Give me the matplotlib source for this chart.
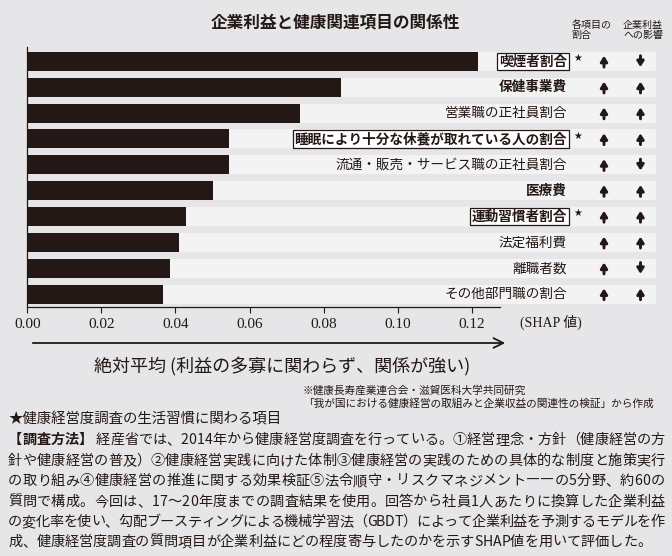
import matplotlib
matplotlib.use('Agg')
import matplotlib.pyplot as plt
import matplotlib.transforms as mtransforms

plt.rcParams['font.family'] = ['Noto Sans CJK JP', 'DejaVu Sans']

# data
items = ['喫煙者割合', '保健事業費', '営業職の正社員割合',
         '睡眠により十分な休養が取れている人の割合',
         '流通・販売・サービス職の正社員割合', '医療費', '運動習慣者割合',
         '法定福利費', '離職者数', 'その他部門職の割合']
shap_vals = [0.1216, 0.0848, 0.0737, 0.0544, 0.0544, 0.0501, 0.0428,
             0.0409, 0.0385, 0.0366]
bold_items = [True, True, False, True, False, True, True, False, False, False]
boxed_items = [True, False, False, True, False, False, True, False, False, False]
ratio_dir = ['up'] * 10
profit_dir = ['down', 'up', 'up', 'up', 'down', 'up', 'up', 'up', 'down', 'up']
xticks = [0.00, 0.02, 0.04, 0.06, 0.08, 0.10, 0.12]

W, H = 672, 556
ink = '#231815'
bg = '#e6e6e8'
band = '#f3f3f3'

fig = plt.figure(figsize=(W / 100, H / 100), dpi=100, facecolor=bg)


def px(x, y):
    return x / W, 1 - y / H


ax = fig.add_axes([27.3 / W, 1 - 307 / H, (500 - 27.3) / W, (307 - 46.7) / H])
ax.set_facecolor('none')
pos = list(range(len(items)))
band_end = (655 - 27.3) / 3700
ax.barh(pos, [band_end] * len(pos), height=0.735, color=band, clip_on=False, zorder=1)
ax.barh(pos, shap_vals, height=0.735, color=ink, zorder=2)
ax.set_xlim(0, 0.1276)
ax.set_ylim(9.5, -0.57)
ax.set_yticks([])
ax.set_xticks(xticks)
ax.set_xticklabels(['%.2f' % t for t in xticks], family='Liberation Serif',
                   fontsize=11, color=ink)
ax.tick_params(axis='x', length=4, width=0.8, color=ink, pad=4)
for s in ['top', 'right']:
    ax.spines[s].set_visible(False)
for s in ['left', 'bottom']:
    ax.spines[s].set_color(ink)
    ax.spines[s].set_linewidth(0.9)

# row labels and arrows
tr = mtransforms.blended_transform_factory(fig.transFigure, ax.transData)
for i, name in enumerate(items):
    kw = dict(ha='right', va='center', fontsize=9.8, color=ink, transform=tr,
              weight='bold' if bold_items[i] else 'normal', zorder=5)
    if boxed_items[i]:
        kw['bbox'] = dict(boxstyle='square,pad=0.12', fc='white', ec=ink, lw=0.9)
    ax.text(567 / W, i, name, **kw)
    if boxed_items[i]:
        ax.text(573.5 / W, i - 0.12, '★', ha='left', va='center', fontsize=7,
                color=ink, transform=tr, family='DejaVu Sans')
    for xp, d in [(604, ratio_dir[i]), (640.5, profit_dir[i])]:
        tip, tail = (i - 0.22, i + 0.22) if d == 'up' else (i + 0.22, i - 0.22)
        ax.annotate('', xy=(xp / W, tip), xytext=(xp / W, tail), xycoords=tr,
                    arrowprops=dict(arrowstyle='-|>,head_length=0.32,head_width=0.2',
                                    lw=2.1, color=ink, shrinkA=0, shrinkB=0))

# headers
fig.text(*px(335, 22), '企業利益と健康関連項目の関係性', ha='center', va='center',
         fontsize=12, weight='bold', color=ink)
fig.text(*px(571.5, 30), '各項目の\n割合', ha='left', va='center', fontsize=7.2,
         color=ink, linespacing=1.0)
fig.text(*px(643, 30), '企業利益\nへの影響', ha='center', va='center', fontsize=7.2,
         color=ink, linespacing=1.0)
fig.text(*px(520, 322), '(SHAP 値)', ha='left', va='center', fontsize=10,
         color=ink, family=['Liberation Serif', 'Noto Sans CJK JP'])

# arrow and caption
fig.add_artist(plt.Annotation('', xy=px(508, 343), xytext=px(30, 343),
                              xycoords='figure fraction',
                              arrowprops=dict(arrowstyle='->,head_length=0.7,head_width=0.35',
                                              lw=1.3, color=ink)))
fig.text(*px(282, 367), '絶対平均 (利益の多寡に関わらず、関係が強い)', ha='center',
         va='center', fontsize=13, color=ink)

fig.text(*px(303, 390), '※健康長寿産業連合会・滋賀医科大学共同研究', ha='left',
         va='center', fontsize=7.7, color=ink)
fig.text(*px(303, 403), '「我が国における健康経営の取組みと企業収益の関連性の検証」から作成',
         ha='left', va='center', fontsize=7.7, color=ink)

fig.text(*px(8, 419), '★健康経営度調査の生活習慣に関わる項目', ha='left', va='center',
         fontsize=10.4, color=ink)

lines = ['【調査方法】 経産省では、2014年から健康経営度調査を行っている。①経営理念・方針（健康経営の方',
         '針や健康経営の普及）②健康経営実践に向けた体制③健康経営の実践のための具体的な制度と施策実行',
         'の取り組み④健康経営の推進に関する効果検証⑤法令順守・リスクマネジメント――の5分野、約60の',
         '質問で構成。今回は、17～20年度までの調査結果を使用。回答から社員1人あたりに換算した企業利益',
         'の変化率を使い、勾配ブースティングによる機械学習法（GBDT）によって企業利益を予測するモデルを作',
         '成、健康経営度調査の質問項目が企業利益にどの程度寄与したのかを示すSHAP値を用いて評価した。']
line_y = [440, 461, 481, 502, 522, 542]
para_size = 10.2
renderer = fig.canvas.get_renderer()
width_cache = {}


def char_width(ch, weight):
    key = (ch, weight)
    if key not in width_cache:
        t = fig.text(0, 0, ch, fontsize=para_size, weight=weight)
        width_cache[key] = t.get_window_extent(renderer).width
        t.remove()
    return width_cache[key]


x_left, x_right = 8, 665
for k, (t, yy) in enumerate(zip(lines, line_y)):
    weights = ['bold' if (k == 0 and j < 6) else 'normal' for j in range(len(t))]
    widths = [char_width(c, w) for c, w in zip(t, weights)]
    total = sum(widths)
    last = k == len(lines) - 1
    extra = 0 if last else (x_right - x_left - total) / (len(t) - 1)
    x = x_left
    for c, w, wd in zip(t, weights, widths):
        fig.text(*px(x, yy), c, ha='left', va='center', fontsize=para_size,
                 weight=w, color=ink)
        x += wd + extra

fig.savefig('out.png', dpi=100, facecolor=bg)
